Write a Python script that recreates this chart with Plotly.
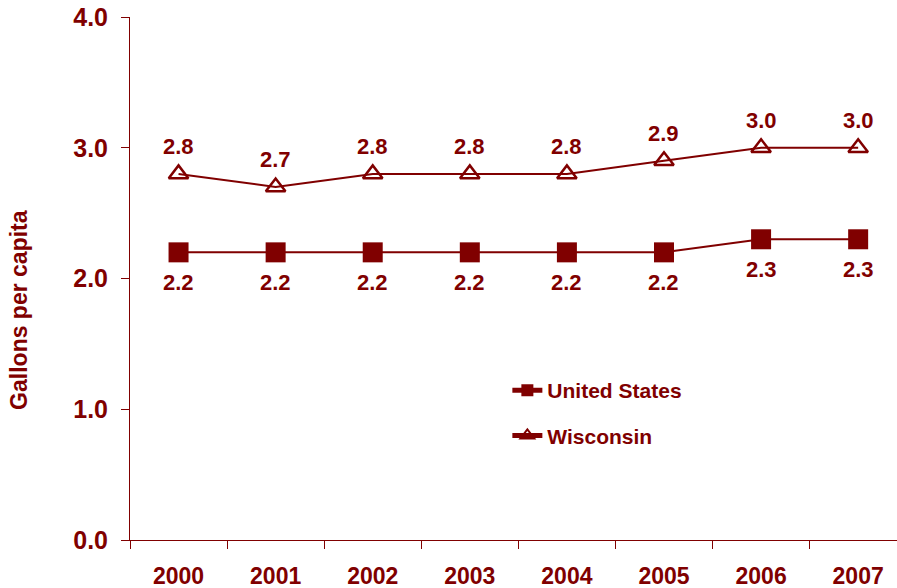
import plotly.graph_objects as go

years = ["2000", "2001", "2002", "2003", "2004", "2005", "2006", "2007"]
us_values = [2.2, 2.2, 2.2, 2.2, 2.2, 2.2, 2.3, 2.3]
wi_values = [2.8, 2.7, 2.8, 2.8, 2.8, 2.9, 3.0, 3.0]
y_ticks = [0, 1, 2, 3, 4]
y_tick_labels = ["0.0", "1.0", "2.0", "3.0", "4.0"]

RED = "#800000"
FONT = "Liberation Sans, Arial, sans-serif"
LABEL_FONT = dict(family=FONT, size=22, color=RED, weight="bold")

fig = go.Figure()
fig.add_trace(go.Scatter(
    x=years, y=us_values, name="United States", mode="lines+markers",
    legendgroup="us",
    line=dict(color=RED, width=2),
    marker=dict(symbol="square", size=20, color=RED),
))
fig.add_trace(go.Scatter(
    x=years, y=wi_values, name="Wisconsin", mode="lines+markers",
    legendgroup="wi",
    line=dict(color=RED, width=2),
    marker=dict(symbol="triangle-up-open", size=17, color=RED, line=dict(width=2.5, color=RED)),
))

annotations = []
for i, v in enumerate(us_values):
    annotations.append(dict(x=i, y=v, xref="x", yref="y", text=f"{v:.1f}",
                            showarrow=False, yshift=-30, font=LABEL_FONT))
for i, v in enumerate(wi_values):
    annotations.append(dict(x=i, y=v, xref="x", yref="y", text=f"{v:.1f}",
                            showarrow=False, yshift=27, font=LABEL_FONT))
annotations.append(dict(text="Gallons per capita", xref="paper", yref="paper",
                        x=0, y=0.44, xshift=-111, xanchor="center", yanchor="middle",
                        textangle=-90, showarrow=False,
                        font=dict(family=FONT, size=23, color=RED, weight="bold")))

fig.update_layout(
    width=897, height=588,
    margin=dict(l=130, r=0, t=17, b=48),
    plot_bgcolor="white", paper_bgcolor="white",
    font=dict(family=FONT, color=RED),
    showlegend=True,
    legend=dict(x=0.492, y=0.325, xanchor="left", yanchor="top",
                font=dict(family=FONT, size=21, color=RED, weight="bold"),
                tracegroupgap=15, itemsizing="constant", bgcolor="rgba(0,0,0,0)"),
    annotations=annotations,
)
fig.update_xaxes(
    type="category", range=[-0.5, 7.4], automargin=False,
    showline=True, linecolor=RED, linewidth=1,
    ticks="outside", tickson="boundaries", ticklen=8, tickcolor=RED,
    tickfont=dict(family=FONT, size=23, color=RED, weight="bold"),
    showgrid=False, zeroline=False, ticklabelstandoff=15, ticklabeloverflow="allow",
)
fig.update_yaxes(
    range=[0, 4], tickvals=y_ticks, ticktext=y_tick_labels, automargin=False,
    showline=True, linecolor=RED, linewidth=1,
    ticks="outside", ticklen=8, tickcolor=RED,
    tickfont=dict(family=FONT, size=25, color=RED, weight="bold"),
    showgrid=False, zeroline=False, ticklabelstandoff=8, ticklabeloverflow="allow",
)

fig.write_html(
    "out.html",
    config={"displayModeBar": False},
    post_script="document.body.style.margin='0';document.body.style.overflow='hidden';",
)
